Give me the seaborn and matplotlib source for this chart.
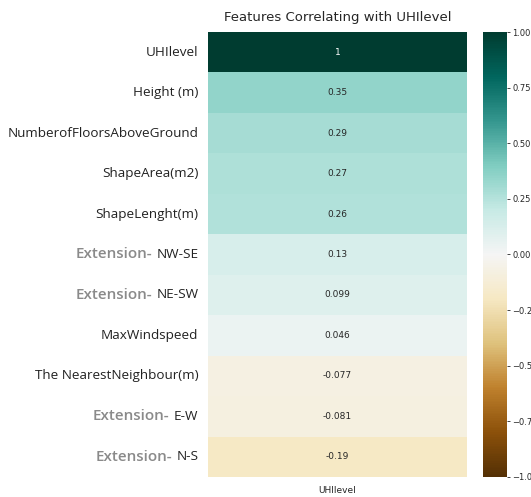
import numpy as np
import pandas as pd
import matplotlib
matplotlib.use("Agg")
import matplotlib.pyplot as plt
import seaborn as sns

# Correlation of each feature with the UHI level
features = ["UHIlevel", "Height (m)", "NumberofFloorsAboveGround", "ShapeArea(m2)",
            "ShapeLenght(m)", "Extension- NW-SE", "Extension- NE-SW", "MaxWindspeed",
            "The NearestNeighbour(m)", "Extension- E-W", "Extension- N-S"]
corr_values = [1.0, 0.35, 0.29, 0.27, 0.26, 0.13, 0.099, 0.046, -0.077, -0.081, -0.19]
target = "UHIlevel"
cbar_ticks = [1.0, 0.75, 0.5, 0.25, 0.0, -0.25, -0.5, -0.75, -1.0]

df = pd.DataFrame({target: corr_values}, index=features)

sns.set_style("white")
W, H = 531, 497
fig = plt.figure(figsize=(W / 100, H / 100), dpi=100)
ax = fig.add_axes([208 / W, 1 - 477 / H, (467 - 208) / W, (477 - 32) / H])
cax = fig.add_axes([483 / W, 1 - 477 / H, 24 / W, (477 - 32) / H])

sns.heatmap(df, vmin=-1, vmax=1, cmap="BrBG", annot=True,
            annot_kws={"fontsize": 6.5}, ax=ax, cbar_ax=cax)

ax.set_title("Features Correlating with UHIlevel", fontsize=9.5, pad=8)
ax.tick_params(axis="x", labelsize=6.5, length=3, width=0.6)
ax.tick_params(axis="y", length=3, width=0.6, pad=4)
cax.tick_params(labelsize=6, length=2.5, width=0.6, pad=1.5)
cax.set_yticks(cbar_ticks)

# Split "Extension-" prefixes into a grey bold part placed before the direction
prefix = "Extension- "
labels = []
for name in features:
    labels.append(name[len(prefix):] if name.startswith(prefix) else name)
ax.set_yticks(np.arange(len(features)) + 0.5)
ax.set_yticklabels(labels, rotation=0, fontsize=9.7, family="Open Sans", color="#222222")

for tl, name in zip(ax.get_yticklabels(), features):
    if name.startswith(prefix):
        ax.annotate("Extension-", xy=(0, 0.5), xycoords=tl, xytext=(-3, 0),
                    textcoords="offset points", ha="right", va="center",
                    fontsize=11, family="Open Sans", fontweight="semibold",
                    color="#8a8a8a", annotation_clip=False)

fig.savefig("out.png", dpi=100)
